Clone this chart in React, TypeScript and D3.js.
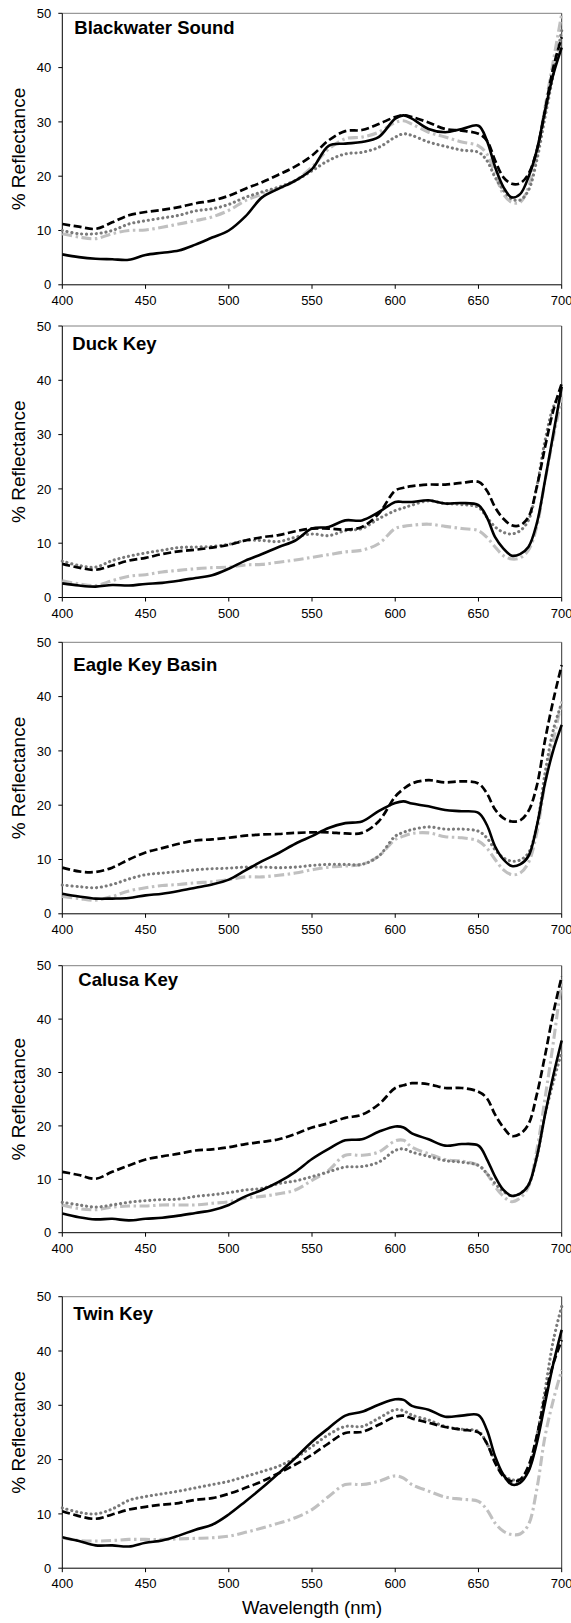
import React from "react";
import * as d3 from "d3";

const wavelengths = [400,410,420,430,440,450,460,470,480,490,500,510,520,530,540,550,560,570,580,590,600,605,610,620,630,640,650,655,660,665,670,675,680,685,690,695,700];

const sites = ["Blackwater Sound", "Duck Key", "Eagle Key Basin", "Calusa Key", "Twin Key"];

// Series A: solid black
const solidA = [
  [5.6,5.1,4.8,4.7,4.6,5.5,5.9,6.3,7.4,8.7,10.0,12.6,16.1,17.7,19.2,21.3,25.6,26.0,26.3,27.2,30.6,31.2,30.6,28.7,28.1,28.7,29.3,26.6,21.7,18.0,16.1,16.7,19.8,24.7,32.1,38.8,43.7],
  [2.6,2.2,2.0,2.3,2.2,2.5,2.7,3.1,3.6,4.1,5.3,6.8,8.0,9.3,10.5,12.7,13.0,14.2,14.2,15.7,17.6,17.6,17.6,17.9,17.3,17.4,17.0,14.8,11.1,9.0,7.7,8.0,9.3,13.6,21.6,30.2,38.8],
  [3.7,3.2,2.8,2.8,2.9,3.4,3.7,4.2,4.8,5.4,6.3,8.0,9.7,11.2,12.9,14.3,15.8,16.7,17.0,18.9,20.4,20.7,20.3,19.8,19.1,18.9,18.6,16.4,12.4,10.0,8.8,9.1,10.6,16.1,24.1,30.2,34.8],
  [3.6,2.9,2.5,2.6,2.3,2.6,2.8,3.2,3.7,4.2,5.2,6.8,8.0,9.5,11.4,13.8,15.7,17.3,17.5,18.9,19.9,19.7,18.6,17.5,16.3,16.6,16.3,13.8,10.5,8.0,6.9,7.3,8.9,14.1,22.1,29.5,36.0],
  [5.7,5.0,4.2,4.2,4.0,4.7,5.1,6.0,7.1,8.0,9.9,12.3,14.8,17.5,20.3,23.3,25.8,28.1,28.8,30.1,31.1,31.0,29.9,29.2,27.9,28.1,28.2,25.5,20.6,17.2,15.4,15.7,17.8,23.0,30.4,37.7,43.9],
];

// Series B: dashed black
const dashedB = [
  [11.2,10.7,10.3,11.5,12.8,13.4,13.8,14.3,15.0,15.5,16.4,17.7,18.9,20.3,21.8,23.8,26.6,28.3,28.5,29.6,30.9,31.2,30.9,29.9,28.7,28.4,27.8,26.6,22.9,19.8,18.6,18.7,20.4,24.7,32.1,40.1,45.6],
  [6.2,5.5,5.1,5.9,6.8,7.3,8.0,8.5,8.8,9.2,9.7,10.5,11.1,11.5,12.2,12.7,12.7,12.5,13.0,15.4,19.7,20.2,20.5,20.8,20.8,21.1,21.3,19.7,16.6,14.5,13.3,13.3,14.8,20.3,27.7,34.5,39.4],
  [8.5,7.8,7.7,8.5,10.0,11.3,12.1,12.9,13.5,13.7,14.0,14.4,14.6,14.7,14.9,15.0,15.0,14.8,14.9,17.0,21.6,23.0,24.0,24.6,24.2,24.4,24.0,22.2,19.2,17.6,17.0,17.2,18.9,23.5,32.0,39.4,45.8],
  [11.4,10.8,10.1,11.4,12.6,13.7,14.3,14.8,15.4,15.6,16.0,16.6,17.0,17.5,18.5,19.7,20.5,21.5,22.1,24.0,27.1,27.6,28.0,27.8,27.1,27.1,26.4,25.2,22.1,19.7,18.1,18.5,20.3,25.8,33.2,41.2,48.0],
  [10.5,9.6,9.1,9.9,10.8,11.3,11.7,12.0,12.6,12.9,13.7,14.8,16.0,17.5,19.1,20.9,23.0,24.9,25.1,26.4,27.9,28.1,27.6,26.8,26.0,25.5,25.0,23.0,19.4,16.9,16.0,16.3,18.8,24.3,31.6,37.7,42.0],
];

// Series C: dotted dark grey
const dottedC = [
  [10.0,9.4,9.4,10.0,11.2,11.8,12.3,12.8,13.6,14.0,14.8,16.1,17.1,18.0,19.2,21.0,22.9,24.1,24.4,25.3,27.2,27.8,27.5,26.3,25.5,24.8,24.4,22.9,19.8,17.4,15.8,15.6,17.4,22.9,30.9,38.8,46.8],
  [6.7,5.9,5.6,6.8,7.6,8.2,8.7,9.2,9.3,9.4,9.8,10.5,10.5,10.3,11.1,11.7,11.4,12.3,12.7,14.5,16.0,16.5,17.0,17.8,17.3,17.1,16.6,14.8,13.0,12.0,11.7,12.3,14.2,20.3,28.9,35.1,38.1],
  [5.3,5.0,4.8,5.4,6.4,7.2,7.5,7.8,8.1,8.3,8.4,8.6,8.6,8.5,8.6,8.9,9.1,9.1,9.1,10.6,14.3,15.0,15.5,16.0,15.6,15.6,15.2,14.0,11.8,10.3,9.7,9.9,11.2,16.1,25.9,33.9,38.8],
  [5.7,5.2,4.8,5.2,5.7,6.0,6.2,6.3,6.8,7.1,7.5,8.0,8.3,9.2,9.7,10.5,11.4,12.3,12.4,13.2,15.4,15.7,15.1,14.3,13.5,13.2,12.6,11.1,9.2,7.7,6.9,7.3,8.9,14.1,22.1,28.3,33.8],
  [11.1,10.3,10.0,10.9,12.5,13.2,13.7,14.2,14.8,15.4,16.0,16.9,17.8,18.8,20.3,22.4,24.6,26.1,26.1,27.6,29.2,29.0,28.2,27.3,26.1,25.6,25.2,23.0,19.7,17.2,16.3,16.4,18.1,24.3,32.8,42.0,48.2],
];

// Series D: dash-dot light grey
const dashDotD = [
  [9.4,8.8,8.5,9.4,10.0,10.1,10.6,11.2,11.8,12.5,13.7,15.5,16.7,17.7,19.2,21.7,25.0,26.9,27.2,28.1,29.9,30.2,29.6,28.1,27.2,26.3,25.6,24.1,20.4,16.7,15.2,15.2,18.0,24.1,32.7,41.3,49.9],
  [3.1,2.5,2.2,3.1,3.9,4.2,4.7,5.0,5.3,5.5,5.6,6.0,6.1,6.5,6.9,7.4,7.9,8.4,8.7,9.9,12.7,13.1,13.3,13.5,13.1,12.7,12.3,11.1,9.3,7.7,7.1,7.3,8.7,13.0,21.6,29.5,36.9],
  [3.2,2.8,2.5,3.2,4.2,4.8,5.2,5.4,5.7,5.9,6.3,6.8,6.8,7.1,7.5,8.1,8.6,8.8,9.1,10.6,13.7,14.3,14.8,14.9,14.2,14.0,13.4,12.1,10.0,8.1,7.2,7.5,9.4,14.9,24.1,32.0,39.1],
  [5.2,4.5,4.3,4.8,5.0,5.0,5.2,5.2,5.2,5.5,5.8,6.5,6.8,7.3,8.0,9.8,11.7,14.5,14.5,15.1,17.2,17.3,16.0,14.8,13.7,13.4,12.6,11.1,8.6,6.8,5.8,6.5,8.6,15.4,25.2,35.7,47.4],
  [5.6,5.1,5.0,5.1,5.3,5.3,5.3,5.4,5.5,5.6,5.9,6.6,7.4,8.3,9.3,10.8,13.2,15.4,15.4,16.0,17.0,16.6,15.4,14.2,13.1,12.7,12.3,10.8,8.3,6.8,6.2,6.3,8.0,14.5,24.3,31.0,36.5],
];

const xTicks = [400, 450, 500, 550, 600, 650, 700];
const yTicks = [0, 10, 20, 30, 40, 50];
const yLabel = "% Reflectance";
const xLabel = "Wavelength (nm)";

const W = 571;
const H = 1623;
const plotLeft = 62.3;
const plotRight = 561.7;
const panelTops = [13.3, 326, 642.3, 965.7, 1296.7];
const panelHeights = [271.5, 271.5, 271.5, 267, 271.5];
const titleOffsets = [[12, 20.7], [10, 24], [11, 29], [16, 20.5], [11, 23]];

const styles = [
  { color: "#000000", width: 2.6, dash: null as string | null, cap: "butt" },
  { color: "#000000", width: 2.7, dash: "8,3.5", cap: "butt" },
  { color: "#7a7a7a", width: 3.1, dash: "0.1,4.8", cap: "round" },
  { color: "#c0c0c0", width: 3.1, dash: "10,3.5,2.5,3.5", cap: "butt" },
];

const font = "Arial, 'Liberation Sans', Helvetica, sans-serif";

function Panel({ idx }: { idx: number }) {
  const top = panelTops[idx];
  const bottom = top + panelHeights[idx];
  const x = d3.scaleLinear().domain([400, 700]).range([plotLeft, plotRight]);
  const y = d3.scaleLinear().domain([0, 50]).range([bottom, top]);
  const line = d3
    .line<number>()
    .x((_, i) => x(wavelengths[i]))
    .y((d) => y(d))
    .curve(d3.curveCatmullRom.alpha(0.5));
  const series = [solidA[idx], dashedB[idx], dottedC[idx], dashDotD[idx]];
  const drawOrder = [3, 2, 1, 0];
  return (
    <g>
      <line x1={plotLeft} x2={plotRight} y1={top} y2={top} stroke="#808080" strokeWidth={1} />
      <line x1={plotRight} x2={plotRight} y1={top} y2={bottom} stroke="#333" strokeWidth={1} />
      <line x1={plotLeft} x2={plotLeft} y1={top} y2={bottom} stroke="#000" strokeWidth={1} />
      <line x1={plotLeft} x2={plotRight} y1={bottom} y2={bottom} stroke="#000" strokeWidth={1} />
      {yTicks.map((t) => (
        <g key={"y" + t}>
          <line x1={plotLeft - 4} x2={plotLeft} y1={y(t)} y2={y(t)} stroke="#000" strokeWidth={1} />
          <text x={plotLeft - 11} y={y(t)} dy="0.36em" textAnchor="end" fontSize={13} fontFamily={font} fill="#000">
            {t}
          </text>
        </g>
      ))}
      {xTicks.map((t) => (
        <g key={"x" + t}>
          <line x1={x(t)} x2={x(t)} y1={bottom} y2={bottom + 4} stroke="#000" strokeWidth={1} />
          <text x={x(t)} y={bottom + 20} textAnchor="middle" fontSize={13} fontFamily={font} fill="#000">
            {t}
          </text>
        </g>
      ))}
      {drawOrder.map((s) => (
        <path
          key={"s" + s}
          d={line(series[s]) || ""}
          fill="none"
          stroke={styles[s].color}
          strokeWidth={styles[s].width}
          strokeDasharray={styles[s].dash || undefined}
          strokeLinecap={styles[s].cap as any}
          strokeLinejoin="round"
        />
      ))}
      <text
        x={plotLeft + titleOffsets[idx][0]}
        y={top + titleOffsets[idx][1]}
        fontSize={18.5}
        fontWeight="bold"
        fontFamily={font}
        fill="#000"
      >
        {sites[idx]}
      </text>
      <text
        transform={`translate(25,${(top + bottom) / 2}) rotate(-90)`}
        textAnchor="middle"
        fontSize={19}
        fontFamily={font}
        fill="#000"
      >
        {yLabel}
      </text>
    </g>
  );
}

export default function App() {
  return (
    <svg
      width={W}
      height={H}
      viewBox={`0 0 ${W} ${H}`}
      style={{ position: "absolute", left: 0, top: 0, background: "#fff" }}
    >
      <rect x={0} y={0} width={W} height={H} fill="#fff" />
      {sites.map((_, i) => (
        <Panel key={i} idx={i} />
      ))}
      <text
        x={(plotLeft + plotRight) / 2}
        y={1614}
        textAnchor="middle"
        fontSize={18.5}
        fontFamily={font}
        fill="#000"
      >
        {xLabel}
      </text>
    </svg>
  );
}
